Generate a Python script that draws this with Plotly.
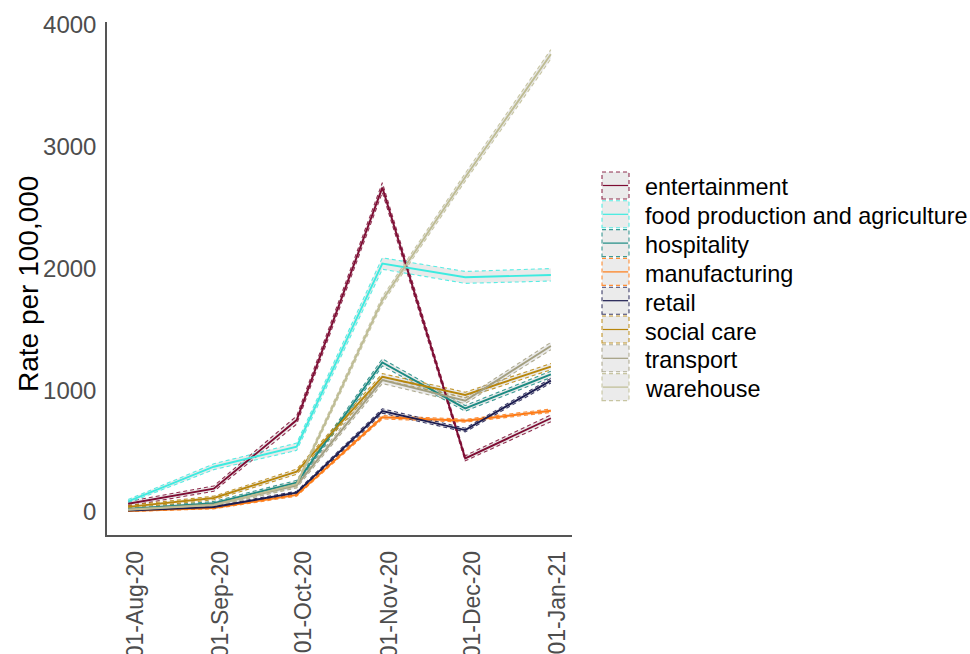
import plotly.graph_objects as go

# Monthly sample dates and their printed labels
months = ["2020-08-01", "2020-09-01", "2020-10-01", "2020-11-01", "2020-12-01", "2021-01-01"]
month_labels = ["01-Aug-20", "01-Sep-20", "01-Oct-20", "01-Nov-20", "01-Dec-20", "01-Jan-21"]

sectors = ["entertainment", "food production and agriculture", "hospitality", "manufacturing",
           "retail", "social care", "transport", "warehouse"]

# Rate per 100,000 with lower / upper confidence bounds, per sector
entertainment = [68, 192, 755, 2665, 441, 770]
entertainment_lo = [50, 170, 722, 2625, 420, 742]
entertainment_hi = [86, 214, 788, 2705, 462, 798]

food_production = [88, 372, 536, 2040, 1928, 1947]
food_production_lo = [74, 348, 506, 1994, 1878, 1897]
food_production_hi = [102, 396, 566, 2088, 1976, 2000]

hospitality = [25, 72, 241, 1229, 851, 1131]
hospitality_lo = [16, 58, 222, 1200, 828, 1105]
hospitality_hi = [34, 86, 260, 1258, 874, 1157]

manufacturing = [8, 33, 140, 778, 750, 832]
manufacturing_lo = [4, 26, 130, 764, 738, 818]
manufacturing_hi = [12, 40, 150, 792, 762, 846]

retail = [12, 41, 159, 830, 673, 1079]
retail_lo = [7, 33, 148, 812, 658, 1060]
retail_hi = [17, 49, 170, 848, 688, 1098]

social_care = [42, 115, 331, 1111, 961, 1194]
social_care_lo = [30, 100, 310, 1085, 938, 1168]
social_care_hi = [54, 130, 352, 1137, 984, 1220]

transport = [20, 62, 218, 1084, 914, 1363]
transport_lo = [8, 48, 198, 1055, 890, 1333]
transport_hi = [32, 76, 238, 1113, 938, 1393]

warehouse = [18, 56, 228, 1740, 2750, 3760]
warehouse_lo = [6, 42, 208, 1712, 2718, 3722]
warehouse_hi = [30, 70, 248, 1768, 2782, 3798]

series = {
    "entertainment": (entertainment, entertainment_lo, entertainment_hi),
    "food production and agriculture": (food_production, food_production_lo, food_production_hi),
    "hospitality": (hospitality, hospitality_lo, hospitality_hi),
    "manufacturing": (manufacturing, manufacturing_lo, manufacturing_hi),
    "retail": (retail, retail_lo, retail_hi),
    "social care": (social_care, social_care_lo, social_care_hi),
    "transport": (transport, transport_lo, transport_hi),
    "warehouse": (warehouse, warehouse_lo, warehouse_hi),
}

colors = {
    "entertainment": (126, 12, 51),
    "food production and agriculture": (61, 235, 224),
    "hospitality": (27, 138, 130),
    "manufacturing": (255, 123, 21),
    "retail": (28, 28, 80),
    "social care": (184, 134, 11),
    "transport": (163, 159, 128),
    "warehouse": (190, 188, 147),
}

def rgb(c, a=1.0):
    return f"rgba({c[0]},{c[1]},{c[2]},{a})"

RIBBON_FILL = "rgba(190,190,190,0.32)"
FONT = "Liberation Sans, Arial, sans-serif"

fig = go.Figure()

# Confidence ribbons: dashed lower and upper edges, grey fill between them
for name in sectors:
    mid, lo, hi = series[name]
    c = colors[name]
    fig.add_trace(go.Scatter(
        x=months, y=lo, mode="lines",
        line=dict(color=rgb(c, 0.85), width=1.1, dash="4px,3px"),
        showlegend=False, hoverinfo="skip"))
    fig.add_trace(go.Scatter(
        x=months, y=hi, mode="lines", fill="tonexty", fillcolor=RIBBON_FILL,
        line=dict(color=rgb(c, 0.85), width=1.1, dash="4px,3px"),
        showlegend=False, hoverinfo="skip"))

# Central rate lines
for name in sectors:
    mid, lo, hi = series[name]
    fig.add_trace(go.Scatter(
        x=months, y=mid, mode="lines", name=name,
        line=dict(color=rgb(colors[name]), width=1.9),
        showlegend=False))

# Plot-area geometry in pixels
PLOT_L, PLOT_R, PLOT_T, PLOT_B = 107, 572, 22, 535
W, H = 970, 654

def px_x(px):
    return (px - PLOT_L) / (PLOT_R - PLOT_L)

def px_y(py):
    return (PLOT_B - py) / (PLOT_B - PLOT_T)

shapes = []
annotations = []

# Hand-built legend keys: dashed grey box with a coloured line through it
KEY_L, KEY_R = 602, 629
KEY_TOP0, KEY_PITCH, KEY_H = 172, 28.8, 27
for i, name in enumerate(sectors):
    c = colors[name]
    top = KEY_TOP0 + KEY_PITCH * i
    bot = top + KEY_H
    mid_y = (top + bot) / 2
    shapes.append(dict(
        type="rect", xref="paper", yref="paper",
        x0=px_x(KEY_L), x1=px_x(KEY_R), y0=px_y(bot), y1=px_y(top),
        fillcolor="#EBEBEB", line=dict(color=rgb(c, 0.85), width=1.1, dash="4px,3px")))
    shapes.append(dict(
        type="line", xref="paper", yref="paper",
        x0=px_x(KEY_L + 1), x1=px_x(KEY_R - 1), y0=px_y(mid_y), y1=px_y(mid_y),
        line=dict(color=rgb(c), width=1.2)))
    annotations.append(dict(
        text=name, xref="paper", yref="paper",
        x=px_x(643), y=px_y(mid_y + 2), xanchor="left", yanchor="middle",
        showarrow=False, font=dict(family=FONT, size=23.4, color="#000000")))

# Y axis title
annotations.append(dict(
    text="Rate per 100,000", xref="paper", yref="paper",
    x=px_x(28), y=px_y(284), xanchor="center", yanchor="middle",
    textangle=-90, showarrow=False,
    font=dict(family=FONT, size=28, color="#000000")))

fig.update_layout(
    width=W, height=H,
    margin=dict(l=PLOT_L, r=W - PLOT_R, t=PLOT_T, b=H - PLOT_B, pad=0),
    paper_bgcolor="white", plot_bgcolor="white",
    showlegend=False,
    shapes=shapes, annotations=annotations,
    font=dict(family=FONT),
)

fig.update_xaxes(
    type="date",
    range=["2020-07-24 08:24", "2021-01-08 15:36"],
    tickvals=months, ticktext=month_labels, tickangle=-90,
    tickfont=dict(family=FONT, size=23, color="#4D4D4D"),
    ticks="outside", ticklen=5, tickcolor="rgba(0,0,0,0)",
    ticklabelshift=7,
    showgrid=False, zeroline=False,
    showline=True, linecolor="#555555", linewidth=1.5,
    automargin=False,
)

fig.update_yaxes(
    range=[-189, 4025],
    tickvals=[0, 1000, 2000, 3000, 4000],
    ticktext=["0", "1000", "2000", "3000", "4000"],
    tickfont=dict(family=FONT, size=24, color="#4D4D4D"),
    ticks="outside", ticklen=4, tickcolor="rgba(0,0,0,0)",
    showgrid=False, zeroline=False,
    showline=True, linecolor="#555555", linewidth=1.5,
    automargin=False,
)

fig.write_html("out.html")
